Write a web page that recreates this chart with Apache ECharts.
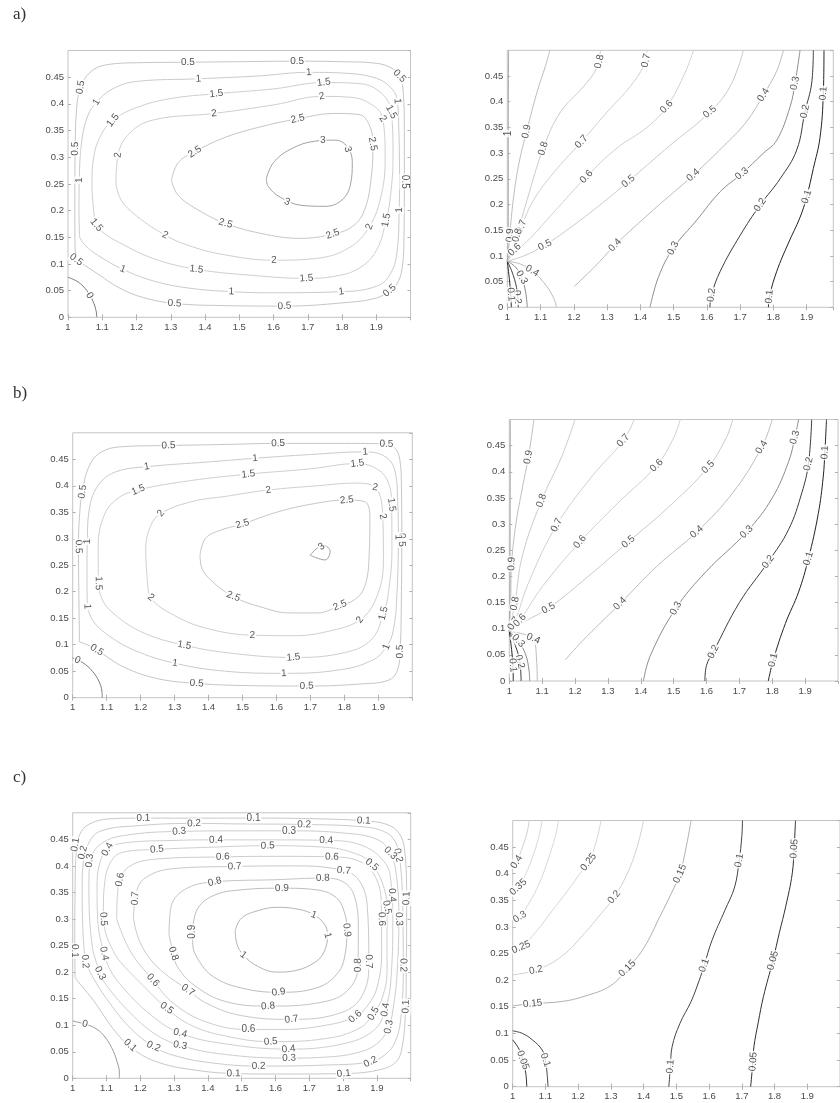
<!DOCTYPE html>
<html><head><meta charset="utf-8">
<script src="https://cdn.jsdelivr.net/npm/echarts@6/dist/echarts.min.js"></script>
<style>html,body{margin:0;padding:0;background:#fff}#c{width:840px;height:1103px}</style>
</head><body><div id="c"></div>
<script>
// ---------- a) left : stream function ----------
const aL_c0  = [[1.0,0.075],[1.03,0.066],[1.055,0.05],[1.073,0.03],[1.082,0.012],[1.084,0]];
const aL_c05 = [[1.022,0.11],[1.02,0.16],[1.02,0.25],[1.021,0.316],[1.024,0.38],[1.037,0.431],[1.07,0.462],[1.12,0.474],[1.2,0.477],[1.35,0.478],[1.5,0.479],[1.669,0.48],[1.8,0.479],[1.9,0.476],[1.945,0.467],[1.968,0.452],[1.979,0.42],[1.982,0.35],[1.982,0.254],[1.981,0.15],[1.975,0.09],[1.96,0.062],[1.939,0.05],[1.9,0.036],[1.8,0.027],[1.632,0.021],[1.45,0.022],[1.311,0.026],[1.22,0.037],[1.15,0.055],[1.09,0.08],[1.05,0.097],[1.022,0.11]];
const aL_c1  = [[1.034,0.15],[1.032,0.2],[1.033,0.257],[1.04,0.33],[1.058,0.378],[1.083,0.403],[1.13,0.428],[1.2,0.442],[1.381,0.447],[1.55,0.452],[1.703,0.459],[1.82,0.457],[1.9,0.448],[1.94,0.432],[1.96,0.41],[1.966,0.35],[1.968,0.25],[1.967,0.2],[1.96,0.12],[1.94,0.08],[1.9,0.058],[1.798,0.048],[1.6,0.046],[1.477,0.048],[1.35,0.055],[1.25,0.068],[1.16,0.09],[1.09,0.115],[1.05,0.135],[1.034,0.15]];
const aL_c15 = [[1.075,0.2],[1.07,0.25],[1.075,0.3],[1.095,0.34],[1.131,0.369],[1.2,0.393],[1.3,0.41],[1.433,0.419],[1.6,0.428],[1.747,0.44],[1.85,0.438],[1.915,0.42],[1.944,0.385],[1.949,0.3],[1.942,0.23],[1.929,0.182],[1.9,0.125],[1.85,0.092],[1.78,0.077],[1.696,0.073],[1.55,0.078],[1.375,0.09],[1.25,0.11],[1.15,0.14],[1.1,0.16],[1.083,0.173],[1.075,0.2]];
const aL_c2  = [[1.14,0.25],[1.146,0.304],[1.18,0.345],[1.25,0.37],[1.426,0.382],[1.6,0.398],[1.741,0.414],[1.83,0.412],[1.895,0.395],[1.919,0.372],[1.926,0.3],[1.915,0.23],[1.88,0.17],[1.82,0.13],[1.72,0.11],[1.601,0.107],[1.45,0.118],[1.35,0.135],[1.284,0.154],[1.2,0.19],[1.155,0.22],[1.14,0.25]];
const aL_c25 = [[1.302,0.257],[1.322,0.29],[1.37,0.31],[1.45,0.335],[1.55,0.355],[1.671,0.372],[1.78,0.382],[1.85,0.38],[1.88,0.36],[1.89,0.325],[1.885,0.26],[1.865,0.2],[1.83,0.17],[1.773,0.156],[1.68,0.148],[1.58,0.155],[1.46,0.176],[1.37,0.205],[1.32,0.23],[1.302,0.257]];
const aL_c3  = [[1.579,0.26],[1.6,0.29],[1.65,0.315],[1.72,0.33],[1.78,0.332],[1.815,0.32],[1.83,0.29],[1.825,0.25],[1.8,0.22],[1.75,0.208],[1.68,0.21],[1.62,0.225],[1.585,0.245],[1.579,0.26]];
const aL_labels = [[1.35,0.478,0.5],[1.669,0.48,0.5],[1.968,0.452,0.5],[1.037,0.431,0.5],[1.021,0.316,0.5],[1.982,0.254,0.5],[1.024,0.108,0.5],[1.311,0.026,0.5],[1.632,0.021,0.5],[1.939,0.05,0.5],
 [1.083,0.403,1],[1.033,0.257,1],[1.16,0.09,1],[1.477,0.048,1],[1.798,0.048,1],[1.967,0.201,1],[1.962,0.405,1],[1.381,0.447,1],[1.703,0.459,1],
 [1.131,0.369,1.5],[1.083,0.173,1.5],[1.375,0.09,1.5],[1.696,0.073,1.5],[1.929,0.182,1.5],[1.944,0.385,1.5],[1.433,0.419,1.5],[1.747,0.44,1.5],
 [1.146,0.304,2],[1.284,0.154,2],[1.601,0.107,2],[1.88,0.17,2],[1.919,0.372,2],[1.741,0.414,2],[1.426,0.382,2],
 [1.37,0.31,2.5],[1.46,0.176,2.5],[1.773,0.156,2.5],[1.89,0.325,2.5],[1.671,0.372,2.5],
 [1.744,0.332,3],[1.817,0.315,3],[1.64,0.216,3],[1.063,0.041,0]];

// ---------- a) right : temperature ----------
const aR_c01a = [[1.0,0.09],[1.007,0.05],[1.011,0.02],[1.012,0]];
const aR_c02a = [[1.0,0.09],[1.018,0.062],[1.03,0.03],[1.033,0]];
const aR_c03a = [[1.0,0.09],[1.025,0.078],[1.043,0.058],[1.055,0.03],[1.06,0]];
const aR_c04a = [[1.0,0.09],[1.04,0.084],[1.075,0.071],[1.11,0.048],[1.138,0.02],[1.148,0]];
const aR_c01 = [[1.785,0],[1.788,0.021],[1.81,0.07],[1.845,0.125],[1.88,0.175],[1.9,0.215],[1.92,0.27],[1.94,0.33],[1.95,0.416],[1.952,0.5]];
const aR_c02 = [[1.609,0],[1.614,0.024],[1.64,0.07],[1.7,0.14],[1.76,0.199],[1.82,0.25],[1.87,0.306],[1.895,0.381],[1.915,0.436],[1.92,0.5]];
const aR_c03 = [[1.429,0],[1.455,0.06],[1.499,0.115],[1.57,0.17],[1.64,0.225],[1.705,0.26],[1.77,0.3],[1.81,0.325],[1.85,0.39],[1.865,0.436],[1.88,0.5]];
const aR_c04 = [[1.2,0.04],[1.26,0.077],[1.324,0.121],[1.44,0.19],[1.559,0.257],[1.66,0.32],[1.72,0.362],[1.77,0.413],[1.81,0.46],[1.83,0.5]];
const aR_c05 = [[1.0,0.09],[1.05,0.1],[1.113,0.121],[1.2,0.16],[1.29,0.205],[1.364,0.245],[1.48,0.31],[1.609,0.38],[1.67,0.43],[1.71,0.5]];
const aR_c06 = [[1.0,0.09],[1.025,0.108],[1.07,0.135],[1.14,0.185],[1.238,0.254],[1.33,0.31],[1.42,0.35],[1.479,0.39],[1.53,0.45],[1.56,0.5]];
const aR_c07 = [[1.0,0.09],[1.02,0.115],[1.043,0.157],[1.08,0.21],[1.15,0.27],[1.223,0.322],[1.3,0.38],[1.37,0.43],[1.41,0.47],[1.42,0.5]];
const aR_c08 = [[1.0,0.09],[1.015,0.115],[1.033,0.15],[1.06,0.21],[1.108,0.309],[1.16,0.38],[1.23,0.43],[1.268,0.465],[1.28,0.5]];
const aR_c09 = [[1.0,0.09],[1.005,0.12],[1.01,0.16],[1.02,0.22],[1.035,0.28],[1.058,0.342],[1.09,0.42],[1.115,0.47],[1.128,0.5]];
const aR_c1  = [[1.0,0.09],[1.003,0.15],[1.003,0.338],[1.004,0.5]];
const aR_labels = [[1.277,0.478,0.8],[1.417,0.48,0.7],[1.479,0.39,0.6],[1.609,0.38,0.5],[1.77,0.413,0.4],[1.865,0.436,0.3],[1.895,0.381,0.2],[1.95,0.416,0.1],
 [1.058,0.342,0.9],[1.003,0.338,1],[1.108,0.309,0.8],[1.223,0.322,0.7],[1.238,0.254,0.6],[1.364,0.245,0.5],[1.559,0.257,0.4],[1.705,0.26,0.3],[1.76,0.199,0.2],[1.9,0.215,0.1],
 [1.043,0.157,0.7],[1.113,0.121,0.5],[1.324,0.121,0.4],[1.499,0.115,0.3],[1.075,0.071,0.4],[1.043,0.058,0.3],[1.614,0.024,0.2],[1.788,0.021,0.1],
 [1.008,0.14,0.9],[1.03,0.14,0.8],[1.022,0.112,0.6],[1.03,0.02,0.2],[1.011,0.025,0.1]];

// ---------- b) left : stream function ----------
const bL_c0  = [[1.0,0.075],[1.03,0.066],[1.058,0.05],[1.078,0.03],[1.086,0.012],[1.087,0]];
const bL_c05 = [[1.02,0.105],[1.018,0.2],[1.017,0.285],[1.022,0.36],[1.029,0.389],[1.045,0.432],[1.08,0.462],[1.15,0.474],[1.282,0.476],[1.45,0.478],[1.605,0.48],[1.8,0.48],[1.924,0.479],[1.95,0.47],[1.963,0.45],[1.968,0.4],[1.969,0.298],[1.968,0.2],[1.964,0.087],[1.955,0.05],[1.93,0.033],[1.85,0.026],[1.689,0.022],[1.5,0.023],[1.365,0.027],[1.25,0.036],[1.15,0.058],[1.071,0.09],[1.035,0.102],[1.02,0.105]];
const bL_c1  = [[1.043,0.172],[1.042,0.23],[1.043,0.295],[1.05,0.36],[1.08,0.405],[1.13,0.427],[1.218,0.436],[1.4,0.445],[1.537,0.452],[1.7,0.459],[1.861,0.464],[1.92,0.455],[1.948,0.43],[1.957,0.37],[1.959,0.303],[1.955,0.2],[1.945,0.13],[1.924,0.096],[1.88,0.07],[1.78,0.052],[1.622,0.046],[1.45,0.05],[1.301,0.065],[1.18,0.09],[1.1,0.12],[1.06,0.145],[1.043,0.172]];
const bL_c15 = [[1.076,0.216],[1.075,0.28],[1.09,0.34],[1.13,0.375],[1.193,0.392],[1.35,0.41],[1.517,0.422],[1.7,0.432],[1.838,0.442],[1.9,0.43],[1.93,0.405],[1.939,0.364],[1.94,0.28],[1.93,0.2],[1.915,0.159],[1.88,0.11],[1.8,0.085],[1.65,0.076],[1.48,0.083],[1.329,0.099],[1.2,0.125],[1.11,0.165],[1.084,0.19],[1.076,0.216]];
const bL_c2  = [[1.22,0.22],[1.215,0.28],[1.23,0.325],[1.26,0.348],[1.35,0.37],[1.45,0.38],[1.576,0.392],[1.72,0.4],[1.83,0.405],[1.89,0.397],[1.913,0.342],[1.915,0.26],[1.895,0.19],[1.846,0.147],[1.75,0.125],[1.65,0.117],[1.529,0.118],[1.4,0.13],[1.3,0.155],[1.23,0.189],[1.22,0.22]];
const bL_c25 = [[1.375,0.269],[1.39,0.3],[1.43,0.315],[1.5,0.328],[1.6,0.35],[1.7,0.365],[1.807,0.373],[1.86,0.37],[1.875,0.34],[1.873,0.27],[1.86,0.21],[1.83,0.185],[1.787,0.174],[1.72,0.16],[1.64,0.16],[1.55,0.172],[1.473,0.191],[1.41,0.22],[1.38,0.245],[1.375,0.269]];
const bL_c3  = [[1.699,0.269],[1.738,0.288],[1.758,0.276],[1.743,0.26],[1.699,0.269]];
const bL_labels = [[1.282,0.476,0.5],[1.605,0.48,0.5],[1.924,0.479,0.5],[1.029,0.389,0.5],[1.017,0.285,0.5],[1.969,0.298,0.5],[1.964,0.087,0.5],[1.365,0.027,0.5],[1.689,0.022,0.5],[1.071,0.09,0.5],[1.014,0.071,0],
 [1.218,0.436,1],[1.537,0.452,1],[1.861,0.464,1],[1.043,0.295,1],[1.043,0.172,1],[1.301,0.065,1],[1.622,0.046,1],[1.924,0.096,1],[1.959,0.303,1],
 [1.193,0.392,1.5],[1.517,0.422,1.5],[1.838,0.442,1.5],[1.939,0.364,1.5],[1.915,0.159,1.5],[1.65,0.076,1.5],[1.329,0.099,1.5],[1.076,0.216,1.5],
 [1.26,0.348,2],[1.576,0.392,2],[1.89,0.397,2],[1.913,0.342,2],[1.846,0.147,2],[1.529,0.118,2],[1.23,0.189,2],
 [1.807,0.373,2.5],[1.5,0.328,2.5],[1.473,0.191,2.5],[1.787,0.174,2.5],[1.733,0.285,3]];

// ---------- b) right : temperature ----------
const bR_c01a = [[1.0,0.095],[1.007,0.06],[1.011,0.03],[1.012,0]];
const bR_c02a = [[1.0,0.095],[1.02,0.065],[1.032,0.037],[1.036,0]];
const bR_c03a = [[1.0,0.095],[1.027,0.077],[1.05,0.05],[1.06,0.02],[1.062,0]];
const bR_c04a = [[1.0,0.095],[1.04,0.09],[1.073,0.081],[1.083,0.04],[1.085,0]];
const bR_c01 = [[1.788,0],[1.803,0.04],[1.84,0.11],[1.88,0.17],[1.91,0.234],[1.94,0.32],[1.955,0.39],[1.96,0.437],[1.965,0.5]];
const bR_c02 = [[1.595,0],[1.6,0.03],[1.621,0.056],[1.7,0.15],[1.788,0.228],[1.85,0.29],[1.89,0.36],[1.91,0.415],[1.92,0.5]];
const bR_c03 = [[1.408,0],[1.43,0.05],[1.507,0.139],[1.6,0.21],[1.722,0.285],[1.8,0.35],[1.85,0.42],[1.869,0.466],[1.88,0.5]];
const bR_c04 = [[1.17,0.04],[1.22,0.075],[1.337,0.148],[1.45,0.22],[1.57,0.285],[1.68,0.36],[1.768,0.447],[1.8,0.5]];
const bR_c05 = [[1.0,0.095],[1.05,0.115],[1.119,0.139],[1.24,0.2],[1.362,0.266],[1.48,0.33],[1.605,0.409],[1.66,0.465],[1.68,0.5]];
const bR_c06 = [[1.0,0.095],[1.032,0.116],[1.1,0.18],[1.215,0.266],[1.33,0.34],[1.448,0.412],[1.5,0.465],[1.52,0.5]];
const bR_c07 = [[1.0,0.095],[1.015,0.11],[1.06,0.19],[1.144,0.298],[1.25,0.39],[1.347,0.46],[1.38,0.5]];
const bR_c08 = [[1.0,0.095],[1.017,0.148],[1.04,0.24],[1.098,0.345],[1.16,0.43],[1.2,0.5]];
const bR_c09 = [[1.0,0.095],[1.004,0.15],[1.007,0.224],[1.02,0.3],[1.04,0.37],[1.058,0.428],[1.075,0.5]];
const bR_c1  = [[1.0,0.095],[1.002,0.2],[1.003,0.5]];
const bR_labels = [[1.058,0.428,0.9],[1.098,0.345,0.8],[1.144,0.298,0.7],[1.215,0.266,0.6],[1.362,0.266,0.5],[1.57,0.285,0.4],[1.722,0.285,0.3],[1.788,0.228,0.2],[1.91,0.234,0.1],
 [1.347,0.46,0.7],[1.448,0.412,0.6],[1.605,0.409,0.5],[1.768,0.447,0.4],[1.869,0.466,0.3],[1.91,0.415,0.2],[1.96,0.437,0.1],
 [1.007,0.224,0.9],[1.017,0.148,0.8],[1.013,0.11,0.7],[1.032,0.116,0.6],[1.119,0.139,0.5],[1.073,0.081,0.4],[1.027,0.077,0.3],[1.032,0.037,0.2],[1.011,0.03,0.1],
 [1.337,0.148,0.4],[1.507,0.139,0.3],[1.621,0.056,0.2],[1.803,0.04,0.1]];

// ---------- c) left ----------
const cL_c0  = [[1.0,0.108],[1.036,0.102],[1.065,0.095],[1.09,0.082],[1.115,0.058],[1.132,0.03],[1.138,0.01],[1.138,0]];
const cL_c01 = [[1.007,0.19],[1.006,0.26],[1.007,0.35],[1.01,0.42],[1.02,0.458],[1.05,0.479],[1.12,0.489],[1.209,0.49],[1.4,0.49],[1.535,0.49],[1.7,0.489],[1.861,0.485],[1.93,0.478],[1.965,0.462],[1.982,0.43],[1.988,0.34],[1.987,0.2],[1.985,0.135],[1.975,0.06],[1.955,0.03],[1.9,0.015],[1.802,0.009],[1.6,0.008],[1.476,0.009],[1.356,0.016],[1.258,0.029],[1.19,0.05],[1.13,0.085],[1.061,0.147],[1.025,0.175],[1.007,0.19]];
const cL_c02 = [[1.037,0.22],[1.03,0.28],[1.028,0.36],[1.032,0.41],[1.045,0.44],[1.08,0.465],[1.2,0.476],[1.359,0.48],[1.5,0.479],[1.685,0.478],[1.85,0.474],[1.92,0.465],[1.955,0.445],[1.97,0.4],[1.977,0.3],[1.978,0.213],[1.972,0.12],[1.955,0.07],[1.925,0.045],[1.881,0.031],[1.75,0.025],[1.55,0.023],[1.4,0.03],[1.3,0.043],[1.239,0.06],[1.17,0.095],[1.1,0.15],[1.06,0.19],[1.037,0.22]];
const cL_c03 = [[1.06,0.24],[1.05,0.3],[1.048,0.37],[1.055,0.415],[1.085,0.442],[1.15,0.457],[1.315,0.465],[1.5,0.466],[1.64,0.466],[1.8,0.462],[1.9,0.45],[1.94,0.424],[1.958,0.38],[1.965,0.3],[1.96,0.2],[1.95,0.14],[1.935,0.097],[1.9,0.065],[1.84,0.048],[1.75,0.04],[1.64,0.038],[1.45,0.045],[1.318,0.062],[1.24,0.085],[1.16,0.13],[1.1,0.175],[1.081,0.198],[1.06,0.24]];
const cL_c04 = [[1.093,0.235],[1.075,0.29],[1.072,0.36],[1.08,0.405],[1.103,0.431],[1.15,0.443],[1.3,0.448],[1.424,0.449],[1.6,0.449],[1.75,0.448],[1.85,0.44],[1.925,0.405],[1.943,0.36],[1.947,0.3],[1.943,0.2],[1.925,0.129],[1.89,0.09],[1.8,0.065],[1.639,0.055],[1.45,0.065],[1.318,0.085],[1.23,0.12],[1.15,0.17],[1.11,0.205],[1.093,0.235]];
const cL_c05 = [[1.12,0.24],[1.095,0.28],[1.091,0.32],[1.095,0.37],[1.115,0.41],[1.15,0.426],[1.249,0.431],[1.4,0.435],[1.577,0.438],[1.75,0.435],[1.85,0.42],[1.885,0.402],[1.915,0.37],[1.93,0.32],[1.93,0.2],[1.915,0.15],[1.89,0.122],[1.85,0.095],[1.75,0.075],[1.586,0.069],[1.45,0.08],[1.35,0.1],[1.278,0.132],[1.2,0.18],[1.14,0.22],[1.12,0.24]];
const cL_c06 = [[1.13,0.3],[1.133,0.35],[1.14,0.374],[1.17,0.4],[1.25,0.413],[1.444,0.417],[1.6,0.418],[1.767,0.417],[1.85,0.408],[1.895,0.38],[1.913,0.33],[1.914,0.24],[1.9,0.17],[1.87,0.135],[1.836,0.116],[1.75,0.1],[1.62,0.092],[1.52,0.092],[1.4,0.105],[1.3,0.14],[1.237,0.185],[1.17,0.24],[1.13,0.3]];
const cL_c07 = [[1.18,0.3],[1.185,0.339],[1.21,0.375],[1.3,0.395],[1.479,0.399],[1.65,0.4],[1.802,0.391],[1.85,0.37],[1.872,0.32],[1.876,0.22],[1.86,0.16],[1.8,0.125],[1.647,0.111],[1.5,0.118],[1.4,0.14],[1.341,0.166],[1.25,0.21],[1.2,0.255],[1.18,0.3]];
const cL_c08 = [[1.285,0.27],[1.29,0.32],[1.33,0.355],[1.42,0.37],[1.6,0.374],[1.74,0.377],[1.8,0.37],[1.835,0.34],[1.845,0.28],[1.844,0.213],[1.82,0.17],[1.75,0.145],[1.578,0.136],[1.45,0.145],[1.36,0.175],[1.31,0.21],[1.298,0.235],[1.285,0.27]];
const cL_c09 = [[1.355,0.28],[1.37,0.32],[1.42,0.345],[1.5,0.355],[1.619,0.358],[1.72,0.355],[1.78,0.34],[1.805,0.31],[1.811,0.279],[1.805,0.23],[1.78,0.195],[1.72,0.17],[1.609,0.162],[1.5,0.17],[1.417,0.191],[1.37,0.225],[1.355,0.255],[1.355,0.28]];
const cL_c1  = [[1.481,0.279],[1.5,0.302],[1.55,0.316],[1.604,0.322],[1.67,0.318],[1.713,0.308],[1.745,0.29],[1.754,0.269],[1.745,0.24],[1.72,0.22],[1.66,0.203],[1.604,0.2],[1.55,0.21],[1.505,0.232],[1.485,0.255],[1.481,0.279]];
const cL_labels = [[1.209,0.49,0.1],[1.535,0.49,0.1],[1.861,0.485,0.1],[1.359,0.48,0.2],[1.685,0.478,0.2],[1.315,0.465,0.3],[1.64,0.466,0.3],[1.424,0.449,0.4],[1.75,0.448,0.4],[1.249,0.431,0.5],[1.577,0.438,0.5],
 [1.444,0.417,0.6],[1.479,0.399,0.7],[1.42,0.37,0.8],[1.767,0.417,0.6],[1.802,0.391,0.7],[1.74,0.377,0.8],[1.619,0.358,0.9],
 [1.713,0.308,1],[1.754,0.269,1],[1.505,0.232,1],[1.355,0.276,0.9],[1.811,0.279,0.9],[1.609,0.162,0.9],[1.298,0.235,0.8],[1.578,0.136,0.8],
 [1.341,0.166,0.7],[1.647,0.111,0.7],[1.237,0.185,0.6],[1.52,0.092,0.6],[1.278,0.132,0.5],[1.586,0.069,0.5],[1.318,0.085,0.4],[1.639,0.055,0.4],
 [1.318,0.062,0.3],[1.64,0.038,0.3],[1.239,0.06,0.2],[1.55,0.023,0.2],[1.17,0.062,0.1],[1.476,0.009,0.1],[1.802,0.009,0.1],[1.881,0.031,0.2],[1.036,0.102,0],
 [1.14,0.374,0.6],[1.185,0.339,0.7],[1.091,0.3,0.5],[1.093,0.235,0.4],[1.081,0.198,0.3],[1.006,0.24,0.1],[1.037,0.22,0.2],[1.103,0.431,0.4],
 [1.008,0.44,0.1],[1.03,0.425,0.2],[1.05,0.41,0.3],
 [1.844,0.213,0.8],[1.876,0.22,0.7],[1.836,0.116,0.6],[1.89,0.122,0.5],[1.925,0.129,0.4],[1.935,0.097,0.3],
 [1.988,0.339,0.1],[1.978,0.213,0.2],[1.986,0.135,0.1],[1.945,0.345,0.4],[1.93,0.322,0.5],[1.914,0.3,0.6],[1.965,0.3,0.3],[1.885,0.402,0.5],[1.963,0.42,0.2],[1.94,0.424,0.3]];

// ---------- c) right ----------
const cR_c005a = [[1.0,0.088],[1.02,0.07],[1.031,0.05],[1.04,0.025],[1.043,0]];
const cR_c01a  = [[1.0,0.105],[1.03,0.1],[1.06,0.088],[1.09,0.069],[1.1,0.05],[1.105,0.025],[1.108,0]];
const cR_c005 = [[1.727,0],[1.733,0.04],[1.737,0.075],[1.75,0.12],[1.766,0.169],[1.795,0.237],[1.815,0.29],[1.834,0.338],[1.854,0.4],[1.86,0.45],[1.864,0.5]];
const cR_c01  = [[1.477,0],[1.482,0.038],[1.487,0.075],[1.511,0.119],[1.545,0.16],[1.57,0.2],[1.585,0.228],[1.609,0.275],[1.648,0.331],[1.678,0.375],[1.692,0.425],[1.7,0.47],[1.702,0.5]];
const cR_c015 = [[1.0,0.152],[1.061,0.156],[1.15,0.16],[1.22,0.17],[1.3,0.19],[1.35,0.222],[1.4,0.26],[1.45,0.32],[1.49,0.37],[1.511,0.4],[1.53,0.45],[1.545,0.5]];
const cR_c02  = [[1.0,0.21],[1.071,0.219],[1.15,0.245],[1.222,0.29],[1.27,0.325],[1.31,0.356],[1.35,0.4],[1.38,0.45],[1.4,0.5]];
const cR_c025 = [[1.0,0.255],[1.026,0.262],[1.07,0.29],[1.12,0.33],[1.17,0.37],[1.205,0.4],[1.232,0.422],[1.255,0.46],[1.27,0.5]];
const cR_c03  = [[1.0,0.31],[1.022,0.319],[1.05,0.345],[1.08,0.38],[1.11,0.43],[1.13,0.47],[1.14,0.5]];
const cR_c035 = [[1.0,0.365],[1.017,0.375],[1.04,0.4],[1.06,0.43],[1.08,0.47],[1.09,0.5]];
const cR_c04  = [[1.0,0.41],[1.012,0.422],[1.03,0.45],[1.045,0.48],[1.05,0.5]];
const cR_labels = [[1.86,0.447,0.05],[1.692,0.425,0.1],[1.511,0.4,0.15],[1.232,0.422,0.25],[1.31,0.356,0.2],[1.35,0.222,0.15],[1.585,0.228,0.1],[1.795,0.237,0.05],
 [1.482,0.038,0.1],[1.735,0.047,0.05],[1.1,0.05,0.1],[1.031,0.05,0.05],[1.012,0.422,0.4],[1.017,0.375,0.35],[1.022,0.319,0.3],[1.026,0.262,0.25],[1.071,0.219,0.2],[1.061,0.156,0.15]];

// ---------- tick labels ----------
const xTicks = ['1','1.1','1.2','1.3','1.4','1.5','1.6','1.7','1.8','1.9'];
const yTicks = ['0','0.05','0.1','0.15','0.2','0.25','0.3','0.35','0.4','0.45'];

// ---------- styles (grey shade per contour level) ----------
const STREAM_GRAY = {'0':'#7a7a7a','0.5':'#c6c6c6','1':'#cbcbcb','1.5':'#cfcfcf','2':'#cfcfcf','2.5':'#c6c6c6','3':'#a2a2a2'};
const TEMP_GRAY = {'0.1':'#222222','0.2':'#3c3c3c','0.3':'#8c8c8c','0.4':'#bcbcbc','0.5':'#cacaca','0.6':'#d0d0d0','0.7':'#d0d0d0','0.8':'#cacaca','0.9':'#bdbdbd','1':'#aaaaaa'};
const CL_GRAY = {'0':'#9a9a9a','0.1':'#c8c8c8','0.2':'#cbcbcb','0.3':'#cdcdcd','0.4':'#cfcfcf','0.5':'#cfcfcf','0.6':'#cdcdcd','0.7':'#c9c9c9','0.8':'#c4c4c4','0.9':'#bdbdbd','1':'#b4b4b4'};
const CR_GRAY = {'0.05':'#303030','0.1':'#444444','0.15':'#b0b0b0','0.2':'#d0d0d0','0.25':'#d6d6d6','0.3':'#d8d8d8','0.35':'#d8d8d8','0.4':'#d0d0d0'};

const panels = [
 {grid:{left:68,top:50.5,width:342.5,height:266.8}, xMax:2, gray:STREAM_GRAY, labels:aL_labels,
  contours:[[0,aL_c0],[0.5,aL_c05],[1,aL_c1],[1.5,aL_c15],[2,aL_c2],[2.5,aL_c25],[3,aL_c3]]},
 {grid:{left:507.3,top:50.3,width:326,height:257}, xMax:1.98, gray:TEMP_GRAY, labels:aR_labels,
  contours:[[0.1,aR_c01a],[0.2,aR_c02a],[0.3,aR_c03a],[0.4,aR_c04a],[0.1,aR_c01],[0.2,aR_c02],[0.3,aR_c03],[0.4,aR_c04],[0.5,aR_c05],[0.6,aR_c06],[0.7,aR_c07],[0.8,aR_c08],[0.9,aR_c09],[1,aR_c1]]},
 {grid:{left:72.7,top:432.8,width:339.6,height:264.9}, xMax:2, gray:STREAM_GRAY, labels:bL_labels,
  contours:[[0,bL_c0],[0.5,bL_c05],[1,bL_c1],[1.5,bL_c15],[2,bL_c2],[2.5,bL_c25],[3,bL_c3]]},
 {grid:{left:509.3,top:419.5,width:328.7,height:261.5}, xMax:2, gray:TEMP_GRAY, labels:bR_labels,
  contours:[[0.1,bR_c01a],[0.2,bR_c02a],[0.3,bR_c03a],[0.4,bR_c04a],[0.1,bR_c01],[0.2,bR_c02],[0.3,bR_c03],[0.4,bR_c04],[0.5,bR_c05],[0.6,bR_c06],[0.7,bR_c07],[0.8,bR_c08],[0.9,bR_c09],[1,bR_c1]]},
 {grid:{left:72.7,top:812.8,width:338,height:265.5}, xMax:2, gray:CL_GRAY, labels:cL_labels,
  contours:[[0,cL_c0],[0.1,cL_c01],[0.2,cL_c02],[0.3,cL_c03],[0.4,cL_c04],[0.5,cL_c05],[0.6,cL_c06],[0.7,cL_c07],[0.8,cL_c08],[0.9,cL_c09],[1,cL_c1]]},
 {grid:{left:512.7,top:820.5,width:340.3,height:266.2}, xMax:2, gray:CR_GRAY, labels:cR_labels,
  contours:[[0.05,cR_c005a],[0.1,cR_c01a],[0.05,cR_c005],[0.1,cR_c01],[0.15,cR_c015],[0.2,cR_c02],[0.25,cR_c025],[0.3,cR_c03],[0.35,cR_c035],[0.4,cR_c04]]}
];

function labelAngle(p, lx, ly, level){
  const W=p.grid.width, H=p.grid.height, xr=p.xMax-1;
  const sx=v=>(v-1)/xr*W, sy=v=>-v/0.5*H;
  const px=sx(lx), py=sy(ly);
  let best=Infinity, ang=0;
  p.contours.forEach(([lev,pts])=>{
    if(Math.abs(lev-level)>1e-9) return;
    for(let k=0;k<pts.length-1;k++){
      const ax=sx(pts[k][0]), ay=sy(pts[k][1]), bx=sx(pts[k+1][0]), by=sy(pts[k+1][1]);
      const dx=bx-ax, dy=by-ay, L2=dx*dx+dy*dy||1e-9;
      let t=((px-ax)*dx+(py-ay)*dy)/L2; t=Math.max(0,Math.min(1,t));
      const qx=ax+t*dx-px, qy=ay+t*dy-py, d=qx*qx+qy*qy;
      if(d<best){best=d; ang=Math.atan2(-dy,dx)*180/Math.PI;}
    }
  });
  if(ang>90) ang-=180; if(ang<-90) ang+=180;
  return ang;
}

const fmtX = v => { const i=Math.round((v-1)*10); return (Math.abs(v-1-i/10)<1e-6 && i>=0 && i<xTicks.length) ? xTicks[i] : ''; };
const fmtY = v => { const i=Math.round(v/0.05); return (Math.abs(v-i*0.05)<1e-6 && i>=0 && i<yTicks.length) ? yTicks[i] : ''; };
const tickFont = {fontSize:9.5, color:'#4a4a4a', fontFamily:'Liberation Sans'};
const tickLine = {show:true, inside:true, length:3, lineStyle:{color:'#b0b0b0', width:1}};

const option = {animation:false, backgroundColor:'#fff', grid:[], xAxis:[], yAxis:[], series:[],
  graphic:[
    {type:'text', left:13, top:6, style:{text:'a)', font:'17px "Liberation Serif"', fill:'#333'}},
    {type:'text', left:13, top:385, style:{text:'b)', font:'17px "Liberation Serif"', fill:'#333'}},
    {type:'text', left:13, top:769, style:{text:'c)', font:'17px "Liberation Serif"', fill:'#333'}}
  ]};

panels.forEach((p,i)=>{
  option.grid.push(Object.assign({show:true, borderColor:'#c4c4c4', borderWidth:1, backgroundColor:'transparent'}, p.grid));
  const xb = {type:'value', gridIndex:i, min:1, max:p.xMax, interval:0.1, axisLine:{show:false}, splitLine:{show:false}, axisTick:tickLine};
  option.xAxis.push(Object.assign({}, xb, {position:'bottom', axisLabel:Object.assign({show:true, margin:5, showMaxLabel:false, formatter:fmtX}, tickFont)}));
  option.xAxis.push(Object.assign({}, xb, {position:'top', axisLabel:{show:false}}));
  const yb = {type:'value', gridIndex:i, min:0, max:0.5, interval:0.05, axisLine:{show:false}, splitLine:{show:false}, axisTick:tickLine};
  option.yAxis.push(Object.assign({}, yb, {position:'left', axisLabel:Object.assign({show:true, margin:4, showMaxLabel:false, formatter:fmtY}, tickFont)}));
  option.yAxis.push(Object.assign({}, yb, {position:'right', axisLabel:{show:false}}));
  p.contours.forEach(([lev,pts])=>{
    option.series.push({type:'line', xAxisIndex:2*i, yAxisIndex:2*i, data:pts, symbol:'none', showSymbol:false, smooth:0.4,
      silent:true, z:2, lineStyle:{color:p.gray[String(lev)]||'#bbb', width:1}});
  });
  option.series.push({type:'scatter', xAxisIndex:2*i, yAxisIndex:2*i, symbolSize:1, silent:true, z:5,
    itemStyle:{color:'rgba(0,0,0,0)'},
    data:p.labels.map(([x,y,lev])=>({name:String(lev), value:[x,y], label:{rotate:labelAngle(p,x,y,lev)}})),
    label:{show:true, position:'inside', formatter:q=>q.name, fontSize:10, fontFamily:'Liberation Sans', color:'#2a2a2a',
      backgroundColor:'#fff', padding:[0,1,0,1]}});
});

const chart = echarts.init(document.getElementById('c'), null, {renderer:'canvas', width:840, height:1103});
chart.setOption(option);
</script></body></html>
